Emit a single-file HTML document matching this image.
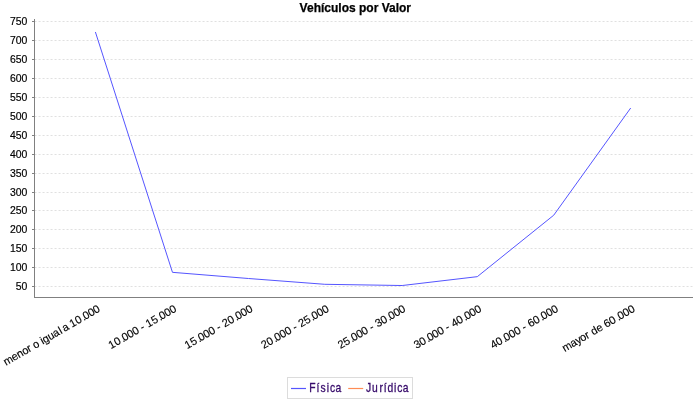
<!DOCTYPE html>
<html><head><meta charset="utf-8"><title>Vehículos por Valor</title>
<style>
html,body{margin:0;padding:0;background:#fff;}
body{width:700px;height:400px;overflow:hidden;font-family:"Liberation Sans",sans-serif;}
svg{display:block;will-change:transform;}
text{font-family:"Liberation Sans",sans-serif;}
</style></head><body>
<svg width="700" height="400" viewBox="0 0 700 400">
<rect x="0" y="0" width="700" height="400" fill="#ffffff"/>
<text x="355.3" y="11.5" text-anchor="middle" font-size="12" font-weight="bold" fill="#000" stroke="#000" stroke-width="0.25">Vehículos por Valor</text>

<g stroke="#c0c0c0" stroke-width="0.5" stroke-dasharray="2,2" fill="none">
<line x1="34.55" y1="286.50" x2="692.5" y2="286.50"/>
<line x1="34.55" y1="267.50" x2="692.5" y2="267.50"/>
<line x1="34.55" y1="248.50" x2="692.5" y2="248.50"/>
<line x1="34.55" y1="229.50" x2="692.5" y2="229.50"/>
<line x1="34.55" y1="210.50" x2="692.5" y2="210.50"/>
<line x1="34.55" y1="192.50" x2="692.5" y2="192.50"/>
<line x1="34.55" y1="173.50" x2="692.5" y2="173.50"/>
<line x1="34.55" y1="154.50" x2="692.5" y2="154.50"/>
<line x1="34.55" y1="135.50" x2="692.5" y2="135.50"/>
<line x1="34.55" y1="116.50" x2="692.5" y2="116.50"/>
<line x1="34.55" y1="97.50" x2="692.5" y2="97.50"/>
<line x1="34.55" y1="78.50" x2="692.5" y2="78.50"/>
<line x1="34.55" y1="59.50" x2="692.5" y2="59.50"/>
<line x1="34.55" y1="40.50" x2="692.5" y2="40.50"/>
<line x1="34.55" y1="21.50" x2="692.5" y2="21.50"/>
</g>
<g stroke="#808080" stroke-width="1" fill="none">
<line x1="34.5" y1="19" x2="34.5" y2="298"/>
<line x1="34" y1="297.5" x2="693" y2="297.5"/>
<line x1="32" y1="286.50" x2="34" y2="286.50"/>
<line x1="32" y1="267.50" x2="34" y2="267.50"/>
<line x1="32" y1="248.50" x2="34" y2="248.50"/>
<line x1="32" y1="229.50" x2="34" y2="229.50"/>
<line x1="32" y1="210.50" x2="34" y2="210.50"/>
<line x1="32" y1="192.50" x2="34" y2="192.50"/>
<line x1="32" y1="173.50" x2="34" y2="173.50"/>
<line x1="32" y1="154.50" x2="34" y2="154.50"/>
<line x1="32" y1="135.50" x2="34" y2="135.50"/>
<line x1="32" y1="116.50" x2="34" y2="116.50"/>
<line x1="32" y1="97.50" x2="34" y2="97.50"/>
<line x1="32" y1="78.50" x2="34" y2="78.50"/>
<line x1="32" y1="59.50" x2="34" y2="59.50"/>
<line x1="32" y1="40.50" x2="34" y2="40.50"/>
<line x1="32" y1="21.50" x2="34" y2="21.50"/>
</g>
<g font-size="11" fill="#000" stroke="#000" stroke-width="0.18" text-anchor="end">
<text transform="translate(27.35,290.00) scale(0.95,1)">50</text>
<text transform="translate(27.35,271.00) scale(0.95,1)">100</text>
<text transform="translate(27.35,252.00) scale(0.95,1)">150</text>
<text transform="translate(27.35,233.00) scale(0.95,1)">200</text>
<text transform="translate(27.35,214.00) scale(0.95,1)">250</text>
<text transform="translate(27.35,196.00) scale(0.95,1)">300</text>
<text transform="translate(27.35,177.00) scale(0.95,1)">350</text>
<text transform="translate(27.35,158.00) scale(0.95,1)">400</text>
<text transform="translate(27.35,139.00) scale(0.95,1)">450</text>
<text transform="translate(27.35,120.00) scale(0.95,1)">500</text>
<text transform="translate(27.35,101.00) scale(0.95,1)">550</text>
<text transform="translate(27.35,82.00) scale(0.95,1)">600</text>
<text transform="translate(27.35,63.00) scale(0.95,1)">650</text>
<text transform="translate(27.35,44.00) scale(0.95,1)">700</text>
<text transform="translate(27.35,25.00) scale(0.95,1)">750</text>
</g>
<polyline points="95.40,31.99 172.47,272.34 248.54,278.51 324.81,284.30 402.18,285.52 477.30,276.66 553.72,215.21 630.69,108.00" fill="none" stroke="#5555ff" stroke-width="1" stroke-linejoin="miter"/>
<g font-size="11" fill="#000" stroke="#000" stroke-width="0.15" text-anchor="start">
<text transform="translate(100.80,311.10) rotate(-30)" x="-109.5 -100.5 -94.5 -88.5 -82.5 -79 -76 -70 -67 -64.6 -58.6 -53 -46 -45 -42 -36 -33.3 -27 -19.65 -18 -12 -6" y="0">menor o igual a 10.000</text>
<text transform="translate(177.17,311.10) rotate(-30)" x="-76.3 -70 -62.65 -61 -55 -49 -43 -40 -36 -33.3 -27 -19.65 -18 -12 -6" y="0">10.000 - 15.000</text>
<text transform="translate(253.44,311.10) rotate(-30)" x="-76.3 -70 -62.65 -61 -55 -49 -43 -40 -36 -33 -27 -19.65 -18 -12 -6" y="0">15.000 - 20.000</text>
<text transform="translate(329.61,311.10) rotate(-30)" x="-76 -70 -62.65 -61 -55 -49 -43 -40 -36 -33 -27 -19.65 -18 -12 -6" y="0">20.000 - 25.000</text>
<text transform="translate(406.28,311.10) rotate(-30)" x="-76 -70 -62.65 -61 -55 -49 -43 -40 -36 -33 -27 -19.65 -18 -12 -6" y="0">25.000 - 30.000</text>
<text transform="translate(482.25,311.10) rotate(-30)" x="-76 -70 -62.65 -61 -55 -49 -43 -40 -36 -33 -27 -19.65 -18 -12 -6" y="0">30.000 - 40.000</text>
<text transform="translate(558.92,311.10) rotate(-30)" x="-76 -70 -62.65 -61 -55 -49 -43 -40 -36 -33 -27 -19.65 -18 -12 -6" y="0">40.000 - 60.000</text>
<text transform="translate(635.59,311.10) rotate(-30)" x="-81.8 -72.8 -66.8 -61.8 -55.8 -51.8 -48.8 -42.8 -36.8 -33.8 -27.8 -19.65 -18 -12 -6" y="0">mayor de 60.000</text>
</g>
<rect x="287.5" y="377.5" width="125" height="21" fill="#fff" stroke="#dcdcdc" stroke-width="1"/>
<line x1="291" y1="388.5" x2="306" y2="388.5" stroke="#5555ff" stroke-width="1.2"/>
<g font-size="12" fill="#360a6a" stroke="#360a6a" stroke-width="0.3"><text transform="translate(309.30,391.70) scale(0.860,1)">F</text><text transform="translate(316.60,391.70) scale(0.860,1)">í</text><text transform="translate(320.50,391.70) scale(0.860,1)">s</text><text transform="translate(326.80,391.70) scale(0.860,1)">i</text><text transform="translate(330.10,391.70) scale(0.860,1)">c</text><text transform="translate(335.50,391.70) scale(0.860,1)">a</text>
<line x1="348.2" y1="388.5" x2="363.2" y2="388.5" stroke="#ff8c55" stroke-width="1.2"/>
<text transform="translate(366.00,391.70) scale(0.860,1)">J</text><text transform="translate(372.00,391.70) scale(0.860,1)">u</text><text transform="translate(379.60,391.70) scale(0.860,1)">r</text><text transform="translate(383.70,391.70) scale(0.860,1)">í</text><text transform="translate(387.40,391.70) scale(0.860,1)">d</text><text transform="translate(393.90,391.70) scale(0.860,1)">i</text><text transform="translate(397.20,391.70) scale(0.860,1)">c</text><text transform="translate(402.80,391.70) scale(0.860,1)">a</text></g>

</svg></body></html>
